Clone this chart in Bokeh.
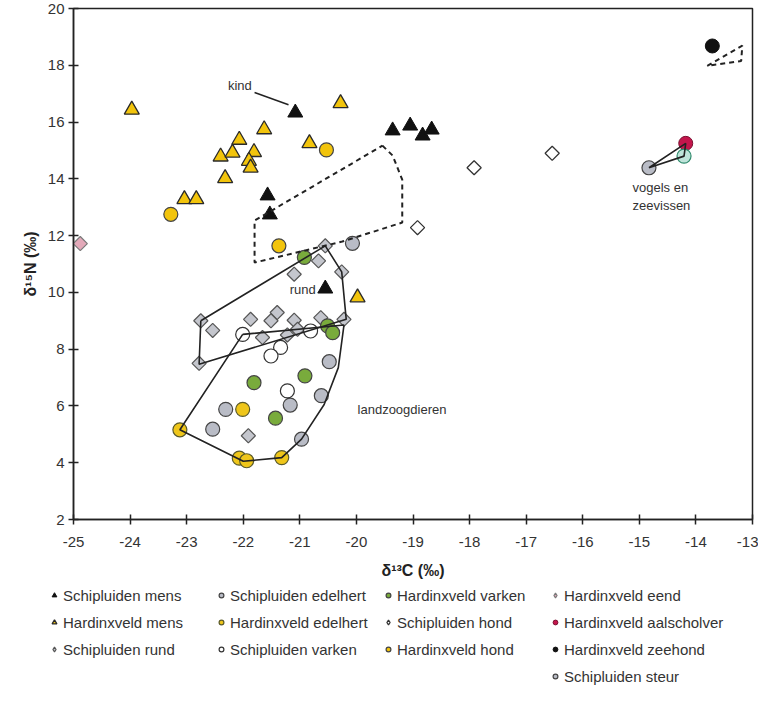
import math
from bokeh.plotting import figure
from bokeh.models import Legend, LegendItem, FixedTicker, Range1d
from bokeh.layouts import column
from bokeh.core.properties import value
from bokeh.embed import file_html
from bokeh.resources import INLINE

# ---------------- data ----------------
x_ticks = [-25, -24, -23, -22, -21, -20, -19, -18, -17, -16, -15, -14, -13]
y_ticks = [2, 4, 6, 8, 10, 12, 14, 16, 18, 20]

schip_mens_x = [-21.08, -21.57, -21.53, -19.36, -19.05, -18.83, -18.67, -20.55]
schip_mens_y = [16.33, 13.41, 12.74, 15.70, 15.87, 15.52, 15.73, 10.13]

hard_mens_x = [-23.97, -23.04, -22.83, -22.32, -22.40, -22.19, -22.07, -21.81, -21.90, -21.87, -21.63, -20.83, -20.28, -19.98]
hard_mens_y = [16.43, 13.28, 13.28, 14.02, 14.78, 14.92, 15.37, 14.94, 14.63, 14.39, 15.74, 15.25, 16.66, 9.82]

schip_rund_x = [-20.55, -20.67, -21.10, -20.26, -22.75, -22.54, -22.78, -21.87, -21.40, -21.51, -21.10, -20.63, -20.22, -21.66, -21.04, -21.22, -21.91]
schip_rund_y = [11.64, 11.11, 10.64, 10.72, 9.00, 8.66, 7.50, 9.05, 9.29, 9.00, 9.02, 9.11, 9.05, 8.41, 8.70, 8.50, 4.95]

schip_edelhert_x = [-20.07, -20.48, -20.62, -21.17, -22.31, -22.54, -20.97]
schip_edelhert_y = [11.73, 7.56, 6.36, 6.03, 5.88, 5.18, 4.83]

hard_edelhert_x = [-22.01, -22.07, -21.94, -21.32, -23.12]
hard_edelhert_y = [5.88, 4.16, 4.07, 4.18, 5.16]

schip_varken_x = [-22.01, -21.34, -21.51, -20.81, -21.22]
schip_varken_y = [8.52, 8.06, 7.76, 8.64, 6.53]

hard_varken_x = [-20.92, -20.51, -20.42, -21.81, -20.91, -21.43]
hard_varken_y = [11.23, 8.82, 8.58, 6.82, 7.06, 5.57]

schip_hond_x = [-17.92, -16.54, -18.92]
schip_hond_y = [14.39, 14.90, 12.28]

hard_hond_x = [-23.28, -20.53, -21.37]
hard_hond_y = [12.75, 15.02, 11.64]

hard_eend_x = [-24.88]
hard_eend_y = [11.72]

hard_aalscholver_x = [-14.18]
hard_aalscholver_y = [15.25]

hard_zeehond_x = [-13.71]
hard_zeehond_y = [18.68]

schip_steur_x = [-14.83]
schip_steur_y = [14.39]

zeevis_x = [-14.21]
zeevis_y = [14.80]

# outlines
rund_hull_x = [-22.75, -20.55, -20.26, -20.18, -22.78, -22.75]
rund_hull_y = [9.00, 11.64, 10.72, 9.05, 7.47, 9.00]

land_hull_x = [-22.01, -20.22, -20.32, -20.57, -20.97, -21.32, -22.00, -23.12, -22.01]
land_hull_y = [8.52, 8.85, 7.35, 6.05, 4.83, 4.18, 4.05, 5.16, 8.52]

mens_dash_x = [-19.54, -19.36, -19.19, -19.19, -20.25, -21.80, -21.80, -19.54]
mens_dash_y = [15.17, 14.82, 13.97, 12.46, 11.79, 11.05, 12.53, 15.17]

zeehond_dash_x = [-13.80, -13.18, -13.20, -13.80]
zeehond_dash_y = [17.98, 18.69, 18.15, 17.98]

vogels_x = [-14.83, -14.18, -14.21, -14.83]
vogels_y = [14.39, 15.25, 14.80, 14.39]

kind_line_x = [-21.80, -21.20]
kind_line_y = [17.04, 16.61]

label_texts = ["kind", "rund", "landzoogdieren", "vogels en", "zeevissen"]
label_x = [-21.85, -20.72, -19.98, -15.12, -15.12]
label_y = [17.30, 10.10, 5.87, 13.70, 13.05]
label_align = ["right", "right", "left", "left", "left"]

legend_labels = [
    "Schipluiden mens", "Schipluiden edelhert", "Hardinxveld varken", "Hardinxveld eend",
    "Hardinxveld mens", "Hardinxveld edelhert", "Schipluiden hond", "Hardinxveld aalscholver",
    "Schipluiden rund", "Schipluiden varken", "Hardinxveld hond", "Hardinxveld zeehond",
    "", "", "", "Schipluiden steur",
]

# ---------------- styles ----------------
FONT = "Liberation Sans"
DIAMOND = dict(marker="square", angle=math.pi / 4, size=10)
CIRCLE = dict(marker="circle", size=14)
TRI = dict(marker="triangle", size=15)
STY = {
    "Schipluiden mens": dict(fill_color="#111111", line_color="#111111", line_width=1, **TRI),
    "Hardinxveld mens": dict(fill_color="#f2c40c", line_color="#2a2a2a", line_width=1.3, **TRI),
    "Schipluiden rund": dict(fill_color="#c4c6cd", line_color="#555555", line_width=1.2, **DIAMOND),
    "Schipluiden edelhert": dict(fill_color="#b9bcc6", line_color="#444444", line_width=1.2, **CIRCLE),
    "Hardinxveld edelhert": dict(fill_color="#efc61a", line_color="#5a5a2a", line_width=1.2, **CIRCLE),
    "Schipluiden varken": dict(fill_color="white", line_color="#333333", line_width=1.2, **CIRCLE),
    "Hardinxveld varken": dict(fill_color="#79ab3c", line_color="#444444", line_width=1.2, **CIRCLE),
    "Schipluiden hond": dict(fill_color="white", line_color="#333333", line_width=1.3, **DIAMOND),
    "Hardinxveld hond": dict(fill_color="#f2c40c", line_color="#444444", line_width=1.2, **CIRCLE),
    "Hardinxveld eend": dict(fill_color="#e3a9b9", line_color="#7a7a7a", line_width=1.2, **DIAMOND),
    "Hardinxveld aalscholver": dict(fill_color="#c4154c", line_color="#7a1030", line_width=1, **CIRCLE),
    "Hardinxveld zeehond": dict(fill_color="#111111", line_color="#111111", line_width=1, **CIRCLE),
    "Schipluiden steur": dict(fill_color="#b9bcc6", line_color="#444444", line_width=1.2, **CIRCLE),
}
SERIES = {
    "Schipluiden mens": (schip_mens_x, schip_mens_y),
    "Hardinxveld mens": (hard_mens_x, hard_mens_y),
    "Schipluiden rund": (schip_rund_x, schip_rund_y),
    "Schipluiden edelhert": (schip_edelhert_x, schip_edelhert_y),
    "Hardinxveld edelhert": (hard_edelhert_x, hard_edelhert_y),
    "Schipluiden varken": (schip_varken_x, schip_varken_y),
    "Hardinxveld varken": (hard_varken_x, hard_varken_y),
    "Schipluiden hond": (schip_hond_x, schip_hond_y),
    "Hardinxveld hond": (hard_hond_x, hard_hond_y),
    "Hardinxveld eend": (hard_eend_x, hard_eend_y),
    "Hardinxveld aalscholver": (hard_aalscholver_x, hard_aalscholver_y),
    "Hardinxveld zeehond": (hard_zeehond_x, hard_zeehond_y),
    "Schipluiden steur": (schip_steur_x, schip_steur_y),
}

# ---------------- main figure ----------------
p = figure(width=758, height=585, x_range=Range1d(-25, -13), y_range=Range1d(2, 20),
           output_backend="svg", toolbar_location=None,
           min_border_left=73, min_border_right=6, min_border_top=8, min_border_bottom=66)
p.grid.visible = False
p.outline_line_color = "#222222"
p.outline_line_width = 1.5
p.background_fill_color = "white"
p.border_fill_color = "white"
p.frame_align = False

for ax in (p.xaxis[0], p.yaxis[0]):
    ax.axis_line_color = "#222222"
    ax.axis_line_width = 1.5
    ax.major_tick_line_color = "#222222"
    ax.major_tick_line_width = 1.5
    ax.major_tick_in = 5
    ax.major_tick_out = 5
    ax.minor_tick_line_color = None
    ax.major_label_text_font = FONT
    ax.major_label_text_font_size = "15px"
    ax.major_label_text_color = "#333333"
    ax.axis_label_text_font = FONT
    ax.axis_label_text_font_size = "16px"
    ax.axis_label_text_font_style = "bold"
    ax.axis_label_text_color = "#222222"

p.xaxis.ticker = FixedTicker(ticks=x_ticks)
p.yaxis.ticker = FixedTicker(ticks=y_ticks)
p.xaxis.major_label_overrides = {t: str(t) for t in x_ticks}
p.yaxis.major_label_overrides = {t: str(t) for t in y_ticks}
p.xaxis.axis_label = "δ¹³C (‰)"
p.yaxis.axis_label = "δ¹⁵N (‰)"
p.xaxis.major_label_standoff = 12
p.xaxis.axis_label_standoff = 12
p.yaxis.major_label_standoff = 4
p.yaxis.axis_label_standoff = 6

for name, (xs, ys) in SERIES.items():
    p.scatter(xs, ys, **STY[name])
p.scatter(zeevis_x, zeevis_y, fill_color="#bfe4da", line_color="#2e8a6c", line_width=1.2, **CIRCLE)

# outlines
p.line(rund_hull_x, rund_hull_y, line_color="#222222", line_width=1.6)
p.line(land_hull_x, land_hull_y, line_color="#222222", line_width=1.6)
p.line(vogels_x, vogels_y, line_color="#222222", line_width=1.6)
p.line(mens_dash_x, mens_dash_y, line_color="#222222", line_width=2, line_dash="5 4")
p.line(zeehond_dash_x, zeehond_dash_y, line_color="#222222", line_width=2, line_dash="5 4")
p.line(kind_line_x, kind_line_y, line_color="#222222", line_width=1.5)

for t, xx, yy, al in zip(label_texts, label_x, label_y, label_align):
    p.text(x=[xx], y=[yy], text=[t], text_align=al, text_baseline="middle",
           text_font=value(FONT), text_font_size="13px", text_color="#333333")

# ---------------- legend figure ----------------
q = figure(width=758, height=101, x_range=Range1d(0, 1), y_range=Range1d(0, 1),
           output_backend="svg", toolbar_location=None,
           x_axis_location=None, y_axis_location=None, min_border=0)
q.grid.visible = False
q.outline_line_color = None
q.background_fill_color = "white"
q.border_fill_color = "white"
q.frame_align = False

items = []
for lab in legend_labels:
    if lab:
        sty = dict(STY[lab])
        if sty.get("marker") == "square":
            sty.pop("angle")
            sty["marker"] = "diamond"
            sty["size"] = 13
        r = q.scatter([-10], [-10], **sty)
        items.append(LegendItem(label=lab, renderers=[r]))
    else:
        r = q.scatter([-10], [-10], marker="circle", size=1, fill_alpha=0, line_alpha=0)
        items.append(LegendItem(label=" ", renderers=[r]))

legend = Legend(items=items, ncols=4, orientation="horizontal", location=(48, 1),
                padding=0, margin=0, spacing=9, label_height=18, label_width=143,
                glyph_height=12, glyph_width=12,
                label_standoff=3, label_text_font=FONT, label_text_font_size="15px",
                label_text_color="#333333", border_line_alpha=0, background_fill_alpha=0)
q.add_layout(legend, "center")

layout = column(p, q, spacing=0)
open("out.html", "w").write(file_html(layout, INLINE))
